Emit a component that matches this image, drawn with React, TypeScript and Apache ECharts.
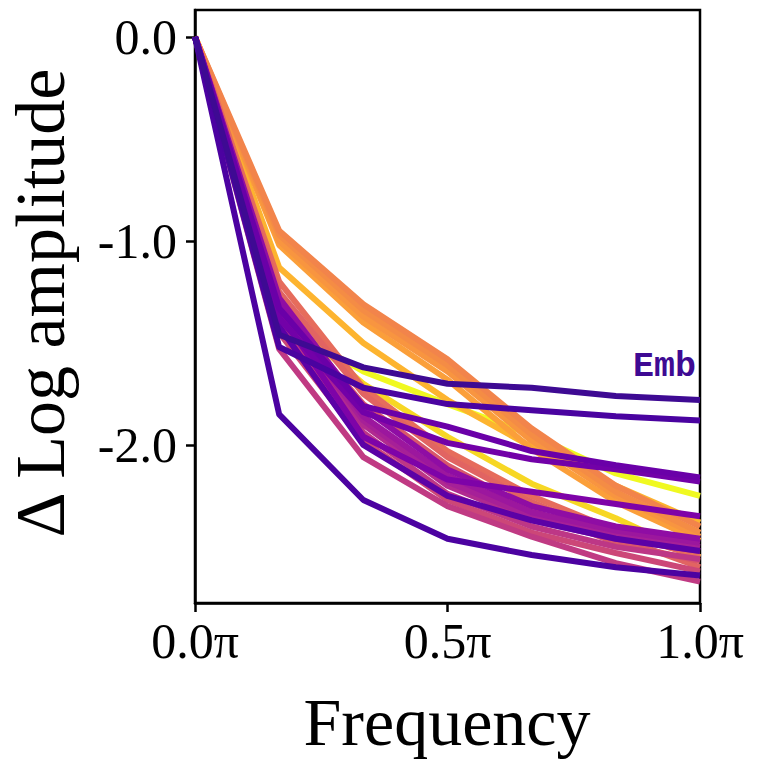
import React, { useEffect, useRef } from "react";
import * as echarts from "echarts";

// Normalised frequency (in units of pi)
const frequencies = [0, 1 / 6, 2 / 6, 3 / 6, 4 / 6, 5 / 6, 1];
const xTickValues = [0, 0.5, 1];
const yTickValues = [0, -1, -2];

// Series drawn first -> last (darker lines end up on top)
const seriesNames = [
  "L23", "L22", "L21", "L20", "L19", "L18", "L17", "L16", "L15", "L14",
  "L13", "L12", "L11", "L10", "L9", "L8", "L7", "L6", "L5", "L4",
  "L3", "L2", "L1", "Emb",
];
const seriesColors = [
  "#f0f921", "#f7d724", "#fdb42f", "#fb9f3a", "#f89540", "#f48c45", "#f2844b",
  "#e66c5c", "#e16462", "#d8576b", "#cc4778", "#c03a83", "#bd3786", "#b12a90",
  "#a62098", "#9c179e", "#8f0da4", "#5c01a6", "#7e03a8", "#7201a8", "#6a00a8",
  "#4c02a1", "#4a03a0", "#3e0a93",
];
const seriesValues = [
  [0, -1.40, -1.64, -1.80, -1.95, -2.14, -2.25],
  [0, -1.35, -1.70, -1.96, -2.19, -2.36, -2.55],
  [0, -1.13, -1.50, -1.78, -2.01, -2.20, -2.38],
  [0, -1.02, -1.40, -1.68, -2.02, -2.28, -2.47],
  [0, -1.00, -1.37, -1.64, -1.98, -2.25, -2.45],
  [0, -0.97, -1.34, -1.61, -1.95, -2.23, -2.43],
  [0, -0.95, -1.31, -1.58, -1.92, -2.20, -2.40],
  [0, -1.20, -1.72, -2.03, -2.25, -2.42, -2.55],
  [0, -1.25, -1.75, -2.06, -2.28, -2.45, -2.60],
  [0, -1.32, -1.80, -2.10, -2.32, -2.48, -2.57],
  [0, -1.45, -1.98, -2.27, -2.43, -2.53, -2.62],
  [0, -1.53, -2.06, -2.30, -2.45, -2.58, -2.67],
  [0, -1.40, -1.94, -2.24, -2.40, -2.50, -2.56],
  [0, -1.36, -1.90, -2.20, -2.37, -2.46, -2.52],
  [0, -1.33, -1.88, -2.18, -2.35, -2.44, -2.50],
  [0, -1.30, -1.86, -2.15, -2.33, -2.42, -2.48],
  [0, -1.28, -1.82, -2.12, -2.30, -2.40, -2.46],
  [0, -1.42, -2.00, -2.25, -2.37, -2.46, -2.52],
  [0, -1.35, -1.96, -2.17, -2.23, -2.29, -2.35],
  [0, -1.38, -1.84, -1.99, -2.07, -2.12, -2.18],
  [0, -1.33, -1.81, -1.91, -2.03, -2.10, -2.16],
  [0, -1.85, -2.27, -2.46, -2.54, -2.60, -2.64],
  [0, -1.52, -1.72, -1.80, -1.83, -1.86, -1.88],
  [0, -1.46, -1.62, -1.70, -1.72, -1.76, -1.78],
];

const SERIF = "'Liberation Serif', 'DejaVu Serif', serif";

export default function App() {
  const ref = useRef<HTMLDivElement>(null);
  useEffect(() => {
    document.body.style.margin = "0";
    const chart = echarts.init(ref.current!, null, { renderer: "svg" });
    const series = seriesNames.map((name, i) => ({
      name,
      type: "line",
      showSymbol: false,
      symbol: "none",
      clip: true,
      data: frequencies.map((f, j) => [f, seriesValues[i][j]]),
      lineStyle: { color: seriesColors[i], width: 6, cap: "butt", join: "round" },
      itemStyle: { color: seriesColors[i] },
      emphasis: { disabled: true },
    }));
    chart.setOption({
      animation: false,
      backgroundColor: "#ffffff",
      grid: {
        left: 195,
        right: 60,
        top: 10,
        bottom: 164,
        show: true,
        borderColor: "#000",
        borderWidth: 2.5,
      },
      xAxis: {
        type: "value",
        min: 0,
        max: 1,
        interval: 0.5,
        axisLine: { show: true, onZero: false, lineStyle: { color: "#000", width: 2.5 } },
        axisTick: { show: true, length: 9, lineStyle: { color: "#000", width: 2.5 } },
        splitLine: { show: false },
        axisLabel: {
          color: "#000",
          fontFamily: SERIF,
          fontSize: 50,
          margin: 13,
          formatter: (v: number) => (xTickValues.includes(v) ? v.toFixed(1) + "π" : ""),
        },
      },
      yAxis: {
        type: "value",
        min: -2.775,
        max: 0.132,
        axisLine: { show: true, onZero: false, lineStyle: { color: "#000", width: 2.5 } },
        axisTick: {
          show: true,
          length: 9,
          customValues: yTickValues,
          lineStyle: { color: "#000", width: 2.5 },
        },
        splitLine: { show: false },
        axisLabel: {
          color: "#000",
          fontFamily: SERIF,
          fontSize: 50,
          margin: 18,
          customValues: yTickValues,
          formatter: (v: number) => v.toFixed(1),
        },
      },
      graphic: [
        {
          type: "text",
          x: 447,
          y: 722,
          style: {
            text: "Frequency",
            font: `68px ${SERIF}`,
            fill: "#000",
            align: "center",
            verticalAlign: "middle",
          },
        },
        {
          type: "text",
          x: 40,
          y: 303,
          rotation: Math.PI / 2,
          style: {
            text: "Δ Log amplitude",
            font: `70px ${SERIF}`,
            fill: "#000",
            align: "center",
            verticalAlign: "middle",
          },
        },
        {
          type: "text",
          x: 696,
          y: 367,
          style: {
            text: "Emb",
            font: `bold 35px 'Liberation Mono', 'DejaVu Sans Mono', monospace`,
            fill: "#3e0a93",
            align: "right",
            verticalAlign: "middle",
          },
        },
      ],
      series,
    });
    return () => chart.dispose();
  }, []);
  return <div ref={ref} style={{ width: 760, height: 767 }} />;
}
